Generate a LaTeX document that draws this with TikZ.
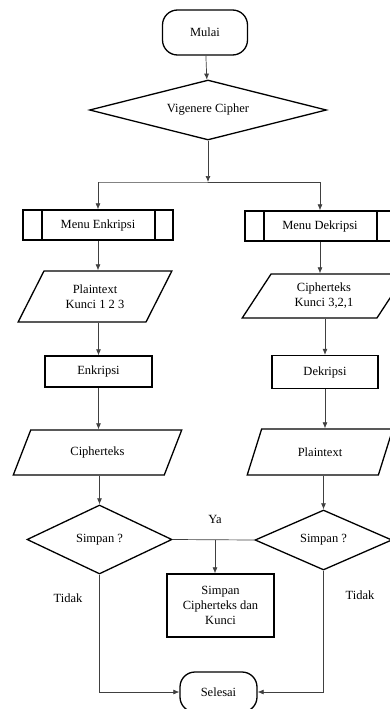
\documentclass[tikz,border=0pt]{standalone}
\usepackage{fontspec}
\setmainfont{Liberation Serif}
\usetikzlibrary{shapes.geometric,arrows.meta}

\tikzset{
  box/.style={draw, line width=1.3pt, inner sep=0pt, align=center},
  terminal/.style={box, rectangle, rounded corners=15pt},
  process/.style={box, rectangle},
  menubox/.style={box, rectangle, minimum width=150pt, minimum height=30pt,
    path picture={
      \draw[line width=1.3pt] ([xshift=19pt]path picture bounding box.north west) -- ([xshift=19pt]path picture bounding box.south west);
      \draw[line width=1.3pt] ([xshift=-18pt]path picture bounding box.north east) -- ([xshift=-18pt]path picture bounding box.south east);}},
  decision/.style={box, diamond},
  io/.style={box, trapezium, trapezium left angle=58, trapezium right angle=122, trapezium stretches=true},
  line/.style={draw=black!75, line width=0.7pt},
  arrow/.style={line, -{Latex[length=6pt,width=5pt]}},
  lbl/.style={inner sep=0pt}
}

\begin{document}
\begin{tikzpicture}[x=1pt, y=-1pt, font=\fontsize{12.5}{15}\selectfont]
  \useasboundingbox (0,0) rectangle (389,709);

  % start
  \node[terminal, minimum width=85pt, minimum height=45pt] (mulai) at (205,32.5) {Mulai};
  \node[decision, aspect=3.95, minimum width=237pt, minimum height=60pt] (vig) at (208,110) {Vigenere Cipher};
  \coordinate (split) at (208,182);

  % enkripsi side
  \node[menubox] (menuE) at (98,225) {Menu Enkripsi};
  \node[io, minimum width=154pt, minimum height=51pt] (inE) at (95,296.5) {Plaintext\\Kunci 1 2 3};
  \node[process, minimum width=107pt, minimum height=31pt] (enk) at (98.5,371.5) {Enkripsi};
  \node[io, minimum width=169pt, minimum height=45pt] (outE) at (97.5,452.5) {Cipherteks};
  \node[decision, aspect=2.1, minimum width=145pt, minimum height=69pt] (simE) at (99.5,539.5) {Simpan ?};

  % dekripsi side
  \node[menubox] (menuD) at (320,226) {Menu Dekripsi};
  \node[io, minimum width=164pt, minimum height=44pt] (inD) at (324,296) {Cipherteks\\Kunci 3,2,1};
  \node[process, minimum width=106pt, minimum height=33pt] (dek) at (325,372) {Dekripsi};
  \node[io, minimum width=146pt, minimum height=46pt] (outD) at (320,452) {Plaintext};
  \node[decision, aspect=2.3, minimum width=137pt, minimum height=60pt] (simD) at (323.5,540) {Simpan ?};

  % save and end
  \node[process, minimum width=107pt, minimum height=63pt] (save) at (220.5,605.5) {Simpan\\Cipherteks dan\\Kunci};
  \node[terminal, minimum width=77pt, minimum height=40pt] (selesai) at (218.5,692) {Selesai};
  \coordinate (ya) at (215,540);

  \node[lbl] (ya lbl) at (215,519) {Ya};
  \node[lbl] (tidakE) at (68,598) {Tidak};
  \node[lbl] (tidakD) at (360,595) {Tidak};

  % connectors
  \draw[arrow] (mulai) -- (vig);
  \draw[arrow] (vig) -- (split);
  \draw[line] (split) -- (split -| menuE) -- (split -| menuD);
  \draw[arrow] (split -| menuE) -- (menuE);
  \draw[arrow] (split -| menuD) -- (menuD);

  \draw[arrow] (menuE) -- (menuE |- inE.north);
  \draw[arrow] (inE.south -| enk) -- (enk);
  \draw[arrow] (enk) -- (enk |- outE.north);
  \draw[arrow] (outE.south -| simE) -- (simE);

  \draw[arrow] (menuD) -- (menuD |- inD.north);
  \draw[arrow] (inD.south -| dek) -- (dek);
  \draw[arrow] (dek) -- (dek |- outD.north);
  \draw[arrow] (outD.south -| simD) -- (simD);

  \draw[line] (simE.east) -- (simD.west);
  \draw[arrow] (ya) -- (ya |- save.north);

  \draw[arrow] (simE.south) |- (selesai.west);
  \draw[arrow] (simD.south) |- (selesai.east);
\end{tikzpicture}
\end{document}
